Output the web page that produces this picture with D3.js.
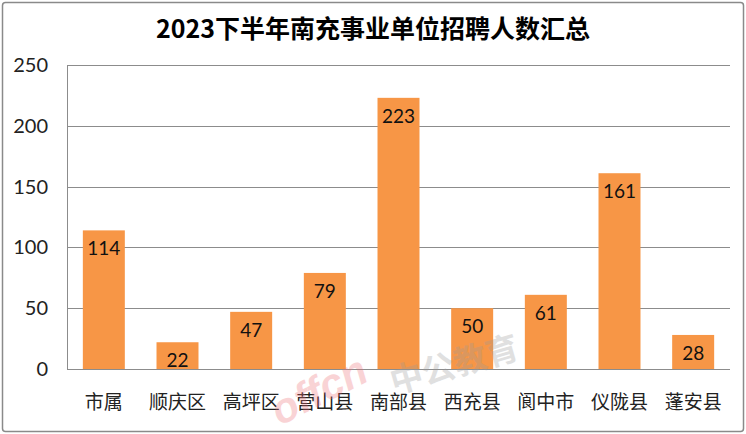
<!DOCTYPE html>
<html><head><meta charset="utf-8">
<script src="https://cdn.jsdelivr.net/npm/d3@7"></script>
<style>body{margin:0;background:#fff}svg{display:block}</style>
</head><body>
<script>
const categories = ["市属","顺庆区","高坪区","营山县","南部县","西充县","阆中市","仪陇县","蓬安县"];
const values = [114,22,47,79,223,50,61,161,28];
const yTicks = [0,50,100,150,200,250];
const title = "2023下半年南充事业单位招聘人数汇总";

const W=746,H=434;
const svg=d3.select("body").append("svg").attr("width",W).attr("height",H);
svg.append("rect").attr("x",2.5).attr("y",2.5).attr("width",741).attr("height",429)
  .attr("fill","#fff").attr("stroke","#8a8a8a").attr("stroke-width",1.5).attr("rx",3);

const m={l:67,r:730,t:65,b:369};
const x=d3.scaleBand().domain(categories).range([m.l,m.r]).paddingInner(0.43).paddingOuter(0.215);
const y=d3.scaleLinear().domain([0,250]).range([m.b,m.t]);

svg.append("text").attr("x",373).attr("y",38).attr("text-anchor","middle")
  .attr("font-family","Noto Sans CJK SC").attr("font-weight","bold").attr("font-size",25)
  .attr("fill","#000").text(title);

const g=svg.append("g");
g.selectAll("line.grid").data(yTicks).join("line").attr("class","grid")
  .attr("x1",m.l).attr("x2",m.r).attr("y1",d=>Math.round(y(d))+0.5).attr("y2",d=>Math.round(y(d))+0.5)
  .attr("stroke","#8c8c8c").attr("stroke-width",1);
g.append("line").attr("x1",m.l+0.5).attr("x2",m.l+0.5).attr("y1",m.t).attr("y2",m.b)
  .attr("stroke","#8c8c8c");

const yAxis=d3.axisLeft(y).tickValues(yTicks).tickSize(0).tickPadding(19);
const ya=svg.append("g").attr("transform",`translate(${m.l},0)`).call(yAxis);
ya.select(".domain").remove();
ya.selectAll("text").attr("font-family","Lato, Liberation Sans").attr("font-size",20).attr("fill","#222");

g.selectAll("rect.bar").data(values).join("rect").attr("class","bar")
  .attr("x",(d,i)=>x(categories[i])).attr("width",x.bandwidth())
  .attr("y",d=>y(d)).attr("height",d=>y(0)-y(d)).attr("fill","#F79646");

g.selectAll("text.val").data(values).join("text").attr("class","val")
  .attr("x",(d,i)=>x(categories[i])+x.bandwidth()/2).attr("y",d=>y(d)+25)
  .attr("text-anchor","middle").attr("font-family","Lato, Liberation Sans").attr("font-size",19)
  .attr("fill","#111").text(d=>d);

const xAxis=d3.axisBottom(x).tickSize(0).tickPadding(27);
const xa=svg.append("g").attr("transform",`translate(0,${m.b})`).call(xAxis);
xa.select(".domain").remove();
xa.selectAll("text").attr("font-family","Noto Sans CJK SC").attr("font-size",19).attr("fill","#222");

// watermark (on top, faint)
const wm=svg.append("g").attr("opacity",0.3);
wm.append("text").attr("transform","translate(280,426) rotate(-27)")
  .attr("font-family","Liberation Sans, Arial").attr("font-weight","bold")
  .attr("font-style","italic").attr("font-size",42).attr("fill","#ee6f78").text("offcn");
wm.append("text").attr("transform","translate(394,394) rotate(-16)")
  .attr("font-family","Noto Sans CJK SC").attr("font-weight","bold")
  .attr("font-size",33).attr("fill","#9a9a9a").text("中公教育");
</script>
</body></html>
